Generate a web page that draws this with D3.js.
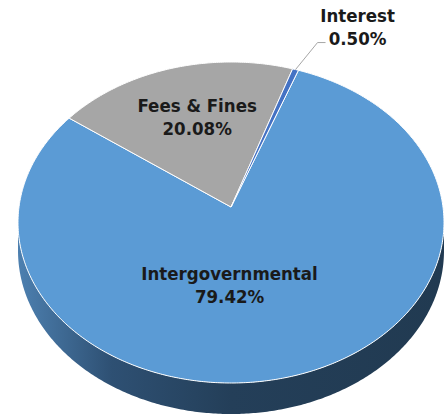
<!DOCTYPE html>
<html>
<head>
<meta charset="utf-8">
<script src="https://cdn.jsdelivr.net/npm/d3@7"></script>
<style>
  html, body { margin: 0; padding: 0; background: #fff; }
  svg text { font-family: "DejaVu Sans Condensed", "DejaVu Sans", sans-serif; font-weight: bold; fill: #1a1a1a; }
</style>
</head>
<body>
<svg id="svg-pie" width="448" height="417"></svg>
<script>
// -------------------- DATA -------------------- //
const categories = ["Intergovernmental", "Fees & Fines", "Interest"];
const values = [79.42, 20.08, 0.50];
const labels = ["79.42%", "20.08%", "0.50%"];
const colors = ["#5b9bd5", "#a6a6a6", "#4472c4"];

// -------------------- 3D PIE SETUP -------------------- //
let svg = d3.select("#svg-pie");

// perspective: center of the top face, radii and tilt
const CX = 231, CY = 207;
const RX = 212, RY = 159;
const K = 0.0966;     // perspective strength
const DEPTH = 28;     // side thickness
const START = 20.3 * Math.PI / 180;

// angle (clockwise from 12 o'clock), radius fraction, depth -> screen
function project(a, r, h) {
    let px = Math.sin(a) * r;
    let py = -Math.cos(a) * r;
    let w = 1 - K * py;
    return [CX + RX * px / w, CY + (RY * py + h) / w];
}

let pie = d3.pie().sort(null).value(d => d).startAngle(START).endAngle(START + 2 * Math.PI);
let arcs = pie(values);

let line = d3.line();

function arcPoints(a0, a1, r, h) {
    let n = Math.max(2, Math.ceil(Math.abs(a1 - a0) / 0.01));
    return d3.range(n + 1).map(i => project(a0 + (a1 - a0) * i / n, r, h));
}

// -------------------- SIDE -------------------- //
let defs = svg.append("defs");
let grad = defs.append("linearGradient").attr("id", "side-grad")
    .attr("x1", "0%").attr("x2", "100%").attr("y1", "0%").attr("y2", "0%");
grad.append("stop").attr("offset", "0%").attr("stop-color", "#4d80b0");
grad.append("stop").attr("offset", "22%").attr("stop-color", "#2e5073");
grad.append("stop").attr("offset", "50%").attr("stop-color", "#243f59");
grad.append("stop").attr("offset", "100%").attr("stop-color", "#213a51");

let sideA0 = Math.PI / 2 + Math.asin(K);
let sideA1 = 3 * Math.PI / 2 - Math.asin(K);
let sidePts = arcPoints(sideA0, sideA1, 1, 0).concat(arcPoints(sideA1, sideA0, 1, DEPTH));
svg.append("path")
    .attr("d", line(sidePts) + "Z")
    .attr("fill", "url(#side-grad)");

// -------------------- TOP SLICES -------------------- //
svg.selectAll(".slice")
    .data(arcs)
    .join("path")
    .attr("class", "slice")
    .attr("d", d => line([[CX, CY]].concat(arcPoints(d.startAngle, d.endAngle, 1, 0))) + "Z")
    .attr("fill", (d, i) => colors[i])
    .attr("stroke", "#ffffff")
    .attr("stroke-width", 1)
    .attr("stroke-linejoin", "round");

// -------------------- LABELS -------------------- //
// label radius on the top face plus a small nudge per slice
const labelRadius = [0.64, 0.64, 1.0];
const deslocamentos = [[-43, -28], [5, 0], [0, 0]];

arcs.forEach(function (d, i) {
    let mid = (d.startAngle + d.endAngle) / 2;
    let g = svg.append("g");
    if (i === 2) {
        // outside label with leader line
        let edge = project(mid, 1, 0);
        let tx = edge[0] + 62, ty = edge[1] - 45;
        svg.append("path")
            .attr("d", line([edge, [edge[0] + 22, edge[1] - 27], [edge[0] + 30, edge[1] - 27]]))
            .attr("fill", "none")
            .attr("stroke", "#a6a6a6")
            .attr("stroke-width", 1);
        g.attr("transform", `translate(${tx},${ty})`);
    } else {
        let p = project(mid, labelRadius[i], 0);
        g.attr("transform", `translate(${p[0] + deslocamentos[i][0]},${p[1] + deslocamentos[i][1]})`);
    }
    g.append("text").attr("text-anchor", "middle").attr("font-size", 18.5).attr("y", -3).text(categories[i]);
    g.append("text").attr("text-anchor", "middle").attr("font-size", 18.5).attr("y", 20).text(labels[i]);
});
</script>
</body>
</html>
